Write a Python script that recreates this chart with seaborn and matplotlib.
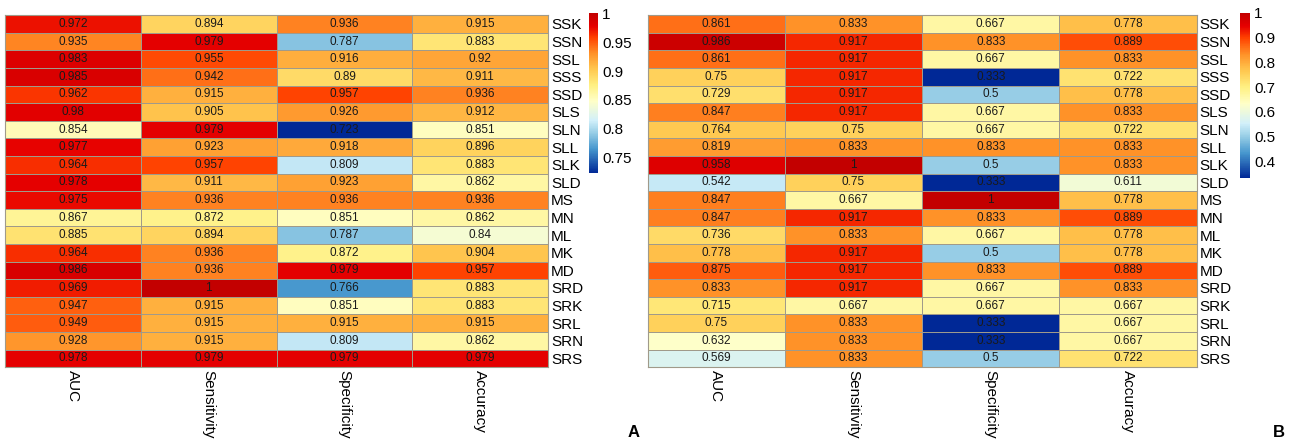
import numpy as np
import pandas as pd
import matplotlib
matplotlib.use('Agg')
import matplotlib.pyplot as plt
import seaborn as sns
from matplotlib.colors import LinearSegmentedColormap

# row names and metrics (same for both panels)
rows = ['SSK', 'SSN', 'SSL', 'SSS', 'SSD', 'SLS', 'SLN', 'SLL', 'SLK', 'SLD',
        'MS', 'MN', 'ML', 'MK', 'MD', 'SRD', 'SRK', 'SRL', 'SRN', 'SRS']
metrics = ['AUC', 'Sensitivity', 'Specificity', 'Accuracy']

# panel A values
auc_a = [0.972, 0.935, 0.983, 0.985, 0.962, 0.98, 0.854, 0.977, 0.964, 0.978,
         0.975, 0.867, 0.885, 0.964, 0.986, 0.969, 0.947, 0.949, 0.928, 0.978]
sens_a = [0.894, 0.979, 0.955, 0.942, 0.915, 0.905, 0.979, 0.923, 0.957, 0.911,
          0.936, 0.872, 0.894, 0.936, 0.936, 1, 0.915, 0.915, 0.915, 0.979]
spec_a = [0.936, 0.787, 0.916, 0.89, 0.957, 0.926, 0.723, 0.918, 0.809, 0.923,
          0.936, 0.851, 0.787, 0.872, 0.979, 0.766, 0.851, 0.915, 0.809, 0.979]
acc_a = [0.915, 0.883, 0.92, 0.911, 0.936, 0.912, 0.851, 0.896, 0.883, 0.862,
         0.936, 0.862, 0.84, 0.904, 0.957, 0.883, 0.883, 0.915, 0.862, 0.979]

# panel B values
auc_b = [0.861, 0.986, 0.861, 0.75, 0.729, 0.847, 0.764, 0.819, 0.958, 0.542,
         0.847, 0.847, 0.736, 0.778, 0.875, 0.833, 0.715, 0.75, 0.632, 0.569]
sens_b = [0.833, 0.917, 0.917, 0.917, 0.917, 0.917, 0.75, 0.833, 1, 0.75,
          0.667, 0.917, 0.833, 0.917, 0.917, 0.917, 0.667, 0.833, 0.833, 0.833]
spec_b = [0.667, 0.833, 0.667, 0.333, 0.5, 0.667, 0.667, 0.833, 0.5, 0.333,
          1, 0.833, 0.667, 0.5, 0.833, 0.667, 0.667, 0.333, 0.333, 0.5]
acc_b = [0.778, 0.889, 0.833, 0.722, 0.778, 0.833, 0.722, 0.833, 0.833, 0.611,
         0.778, 0.889, 0.778, 0.778, 0.889, 0.833, 0.667, 0.667, 0.667, 0.722]

ticks_a = [0.75, 0.8, 0.85, 0.9, 0.95, 1]
ticks_b = [0.4, 0.5, 0.6, 0.7, 0.8, 0.9, 1]

df_a = pd.DataFrame({'AUC': auc_a, 'Sensitivity': sens_a,
                     'Specificity': spec_a, 'Accuracy': acc_a}, index=rows)[metrics]
df_b = pd.DataFrame({'AUC': auc_b, 'Sensitivity': sens_b,
                     'Specificity': spec_b, 'Accuracy': acc_b}, index=rows)[metrics]

# blue - white - yellow - orange - red palette like the original
cmap = LinearSegmentedColormap.from_list('heat', [
    (0.0, '#002896'), (0.15, '#4696CD'), (0.25, '#96CDE6'), (0.33, '#D2F0FA'),
    (0.45, '#FFFFC8'), (0.55, '#FFF082'), (0.65, '#FFC850'), (0.75, '#FF9128'),
    (0.85, '#FF4100'), (0.92, '#E60000'), (1.0, '#C30000')])

sns.set_style('white')
plt.rcParams['font.family'] = ['Liberation Sans', 'DejaVu Sans']
plt.rcParams['text.color'] = 'black'
plt.rcParams['xtick.color'] = 'black'
plt.rcParams['ytick.color'] = 'black'

fig = plt.figure(figsize=(12.9, 4.44), dpi=100)

panels = [
    (df_a, ticks_a, [0.004, 0.173, 0.421, 0.793], [0.4566, 0.610, 0.007, 0.360], 'A', 0.491),
    (df_b, ticks_b, [0.502, 0.173, 0.4256, 0.793], [0.9612, 0.599, 0.0078, 0.372], 'B', 0.991),
]

for df, ticks, pos, cpos, letter, lx in panels:
    ax = fig.add_axes(pos)
    cax = fig.add_axes(cpos)
    sns.heatmap(df, ax=ax, cbar_ax=cax, cmap=cmap,
                vmin=df.values.min(), vmax=df.values.max(),
                annot=df.map(lambda v: '%g' % v), fmt='',
                annot_kws={'fontsize': 8.5, 'color': '#1a1a1a'},
                linewidths=0.6, linecolor='#a09a8a',
                cbar_kws={'ticks': ticks})
    for s in ax.spines.values():
        s.set_visible(True)
        s.set_color('#a09a8a')
        s.set_linewidth(0.8)
    ax.yaxis.tick_right()
    ax.set_yticklabels(rows, rotation=0, fontsize=11)
    ax.set_xticklabels(metrics, rotation=-90, va='top', ha='center', fontsize=11)
    ax.tick_params(length=0, pad=2)
    ax.set_xlabel('')
    ax.set_ylabel('')

    cbar = ax.collections[0].colorbar
    cbar.outline.set_visible(False)
    cbar.ax.tick_params(length=0, labelsize=11, pad=3)
    cbar.ax.set_yticklabels(['%g' % t for t in ticks])

    fig.text(lx, 0.015, letter, fontsize=12, fontweight='bold', ha='center')

fig.savefig('out.png', dpi=100)
